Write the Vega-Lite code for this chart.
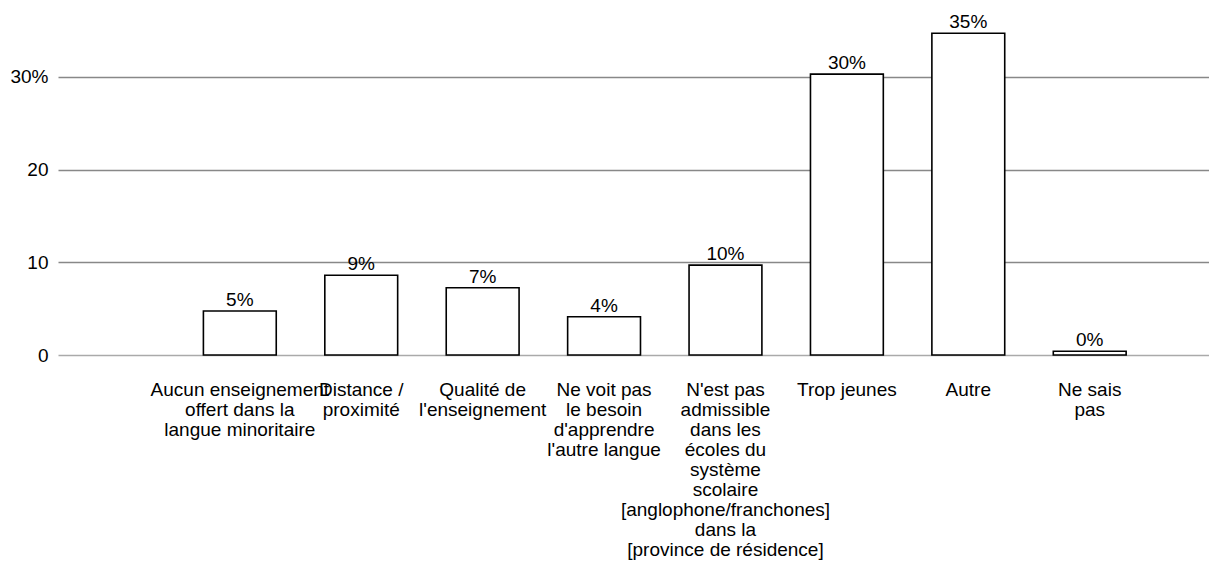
{
  "$schema": "https://vega.github.io/schema/vega-lite/v6.json",
  "autosize": "none",
  "width": 1151,
  "height": 343,
  "padding": {"left": 58, "top": 12, "right": 0, "bottom": 206},
  "background": "white",
  "config": {
    "view": {"stroke": null},
    "font": "Liberation Sans",
    "axis": {"labelFont": "Liberation Sans", "labelColor": "black"}
  },
  "data": {
    "values": [
      {"category": "Aucun enseignement|offert dans la|langue minoritaire", "value": 0.0475},
      {"category": "Distance /|proximité", "value": 0.086},
      {"category": "Qualité de|l'enseignement", "value": 0.0726},
      {"category": "Ne voit pas|le besoin|d'apprendre|l'autre langue", "value": 0.0413},
      {"category": "N'est pas|admissible|dans les|écoles du|système|scolaire|[anglophone/franchones]|dans la|[province de résidence]", "value": 0.097},
      {"category": "Trop jeunes", "value": 0.303},
      {"category": "Autre", "value": 0.347},
      {"category": "Ne sais|pas", "value": 0.004}
    ]
  },
  "encoding": {
    "x": {
      "field": "category",
      "type": "nominal",
      "sort": null,
      "scale": {"paddingInner": 0.4, "paddingOuter": 0.94, "align": 0.637},
      "axis": {
        "title": null,
        "labelAngle": 0,
        "labelAlign": "center",
        "labelBaseline": "top",
        "labelFontSize": 19,
        "labelLineHeight": 20,
        "labelPadding": 25,
        "labelLimit": 0,
        "labelOverlap": false,
        "labelExpr": "split(datum.label, '|')",
        "ticks": false,
        "domain": false,
        "grid": false
      }
    },
    "y": {
      "field": "value",
      "type": "quantitative",
      "scale": {"domain": [0, 0.37], "nice": false},
      "axis": {
        "title": null,
        "values": [0, 0.1, 0.2, 0.3],
        "labelExpr": "datum.value > 0.25 ? '30%' : format(datum.value * 100, 'd')",
        "labelFontSize": 19,
        "labelPadding": 10,
        "ticks": false,
        "domain": false,
        "grid": true,
        "gridColor": {"condition": {"test": "datum.value === 0", "value": "#aaaaaa"}, "value": "#888888"},
        "gridWidth": 1.4
      }
    }
  },
  "layer": [
    {
      "mark": {"type": "bar", "fill": "white", "stroke": "black", "strokeWidth": 1.6}
    },
    {
      "mark": {"type": "text", "baseline": "alphabetic", "dy": -5, "fontSize": 19, "color": "black"},
      "encoding": {"text": {"field": "value", "type": "quantitative", "format": ".0%"}}
    }
  ]
}
